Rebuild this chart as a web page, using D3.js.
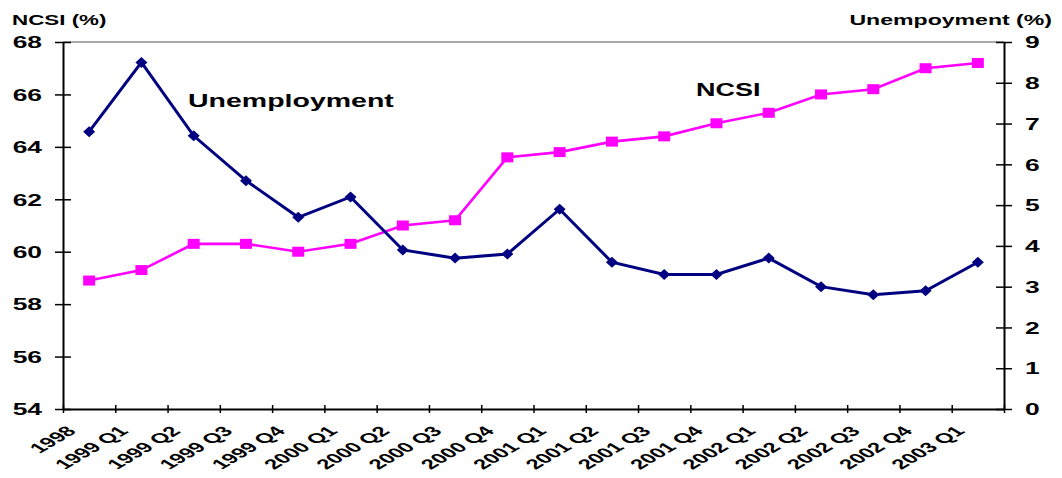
<!DOCTYPE html>
<html>
<head>
<meta charset="utf-8">
<style type="text/css">
body { margin: 0; background: #fff; }
text { font-family: "Liberation Sans", Arial, sans-serif; font-weight: bold; fill: #000; }
</style>
</head>
<body>
<script src="https://d3js.org/d3.v7.min.js"></script>
<script>
// data
var quarters = ["1998", "1999 Q1", "1999 Q2", "1999 Q3", "1999 Q4",
                "2000 Q1", "2000 Q2", "2000 Q3", "2000 Q4",
                "2001 Q1", "2001 Q2", "2001 Q3", "2001 Q4",
                "2002 Q1", "2002 Q2", "2002 Q3", "2002 Q4", "2003 Q1"];
var ncsi = [58.9, 59.3, 60.3, 60.3, 60.0, 60.3, 61.0, 61.2, 63.6,
            63.8, 64.2, 64.4, 64.9, 65.3, 66.0, 66.2, 67.0, 67.2];
var unemployment = [6.8, 8.5, 6.7, 5.6, 4.7, 5.2, 3.9, 3.7, 3.8,
                    4.9, 3.6, 3.3, 3.3, 3.7, 3.0, 2.8, 2.9, 3.6];
var ncsiTicks = [54, 56, 58, 60, 62, 64, 66, 68];
var unempTicks = [0, 1, 2, 3, 4, 5, 6, 7, 8, 9];

var W = 1062, H = 478;
var plot = {left: 63, right: 1004, top: 42, bottom: 409};
var sx = 1.7; // the original picture is stretched sideways, so the labels are too

var svg = d3.select("body").append("svg")
    .attr("width", W).attr("height", H);

var x = d3.scaleBand().domain(quarters).range([plot.left, plot.right]);
var xEdge = d3.scaleLinear().domain([0, quarters.length]).range([plot.left, plot.right]);
var yL = d3.scaleLinear().domain([54, 68]).range([plot.bottom, plot.top]);
var yR = d3.scaleLinear().domain([0, 9]).range([plot.bottom, plot.top]);
function cx(i) { return x(quarters[i]) + x.bandwidth() / 2; }

// stretched text helper
function label(str, px, py, size, scale, anchor) {
  return svg.append("text")
    .attr("transform", "translate(" + px + "," + py + ") scale(" + scale + ",1)")
    .attr("text-anchor", anchor)
    .style("font-size", size + "px")
    .text(str);
}

// top border of plot area
svg.append("line")
    .attr("x1", plot.left).attr("x2", plot.right)
    .attr("y1", plot.top).attr("y2", plot.top)
    .attr("stroke", "#8c8c8c").attr("stroke-width", 1.5);

// x axis (ticks between categories)
var gx = svg.append("g")
    .attr("transform", "translate(0," + plot.bottom + ")")
    .call(d3.axisBottom(xEdge).tickValues(d3.range(quarters.length + 1)).tickFormat("").tickSizeOuter(0));
gx.selectAll(".tick line").attr("y1", -4).attr("y2", 4).attr("stroke-width", 1.5);
gx.select(".domain").attr("stroke-width", 2);

gx.selectAll(".qlab")
    .data(quarters)
  .enter().append("text")
    .attr("class", "qlab")
    .attr("text-anchor", "end")
    .attr("transform", function(d, i) {
      return "translate(" + (cx(i) - 12) + "," + 23 + ") scale(" + sx + ",1) rotate(-45)";
    })
    .style("font-size", "14px")
    .text(function(d) { return d; });

// left axis
var gl = svg.append("g")
    .attr("transform", "translate(" + plot.left + ",0)")
    .call(d3.axisLeft(yL).tickValues(ncsiTicks).tickSizeOuter(0));
gl.selectAll(".tick line").attr("x1", -8).attr("x2", 8).attr("stroke-width", 1.5);
gl.select(".domain").attr("stroke-width", 2);
gl.selectAll(".tick text")
    .attr("x", 0).attr("dy", "0.36em")
    .attr("transform", "translate(-21,0) scale(1.65,1)")
    .style("font-size", "16px");

// right axis
var gr = svg.append("g")
    .attr("transform", "translate(" + plot.right + ",0)")
    .call(d3.axisRight(yR).tickValues(unempTicks).tickSizeOuter(0));
gr.selectAll(".tick line").attr("x1", -8).attr("x2", 8).attr("stroke-width", 1.5);
gr.select(".domain").attr("stroke-width", 2);
gr.selectAll(".tick text")
    .attr("x", 0).attr("dy", "0.36em")
    .attr("transform", "translate(21,0) scale(1.65,1)")
    .style("font-size", "16px");

// axis titles
label("NCSI (%)", 12, 25, 14, 1.6, "start");
label("Unempoyment (%)", 1052, 25, 14, 1.65, "end");

// NCSI series
var lineL = d3.line().x(function(d, i) { return cx(i); }).y(function(d) { return yL(d); });
svg.append("path").datum(ncsi)
    .attr("d", lineL).attr("fill", "none")
    .attr("stroke", "#ff00ff").attr("stroke-width", 2.6);
svg.selectAll(".sq").data(ncsi).enter().append("rect")
    .attr("class", "sq")
    .attr("x", function(d, i) { return cx(i) - 6; })
    .attr("y", function(d) { return yL(d) - 5; })
    .attr("width", 12).attr("height", 10)
    .attr("fill", "#ff00ff");

// Unemployment series
var lineR = d3.line().x(function(d, i) { return cx(i); }).y(function(d) { return yR(d); });
svg.append("path").datum(unemployment)
    .attr("d", lineR).attr("fill", "none")
    .attr("stroke", "#000080").attr("stroke-width", 3);
svg.selectAll(".dm").data(unemployment).enter().append("path")
    .attr("class", "dm")
    .attr("transform", function(d, i) { return "translate(" + cx(i) + "," + yR(d) + ")"; })
    .attr("d", "M-6,0L0,-5.5L6,0L0,5.5Z")
    .attr("fill", "#000080");

// series labels
label("Unemployment", 188, 107, 19, 1.5, "start");
label("NCSI", 696, 96, 19, 1.42, "start");
</script>
</body>
</html>
